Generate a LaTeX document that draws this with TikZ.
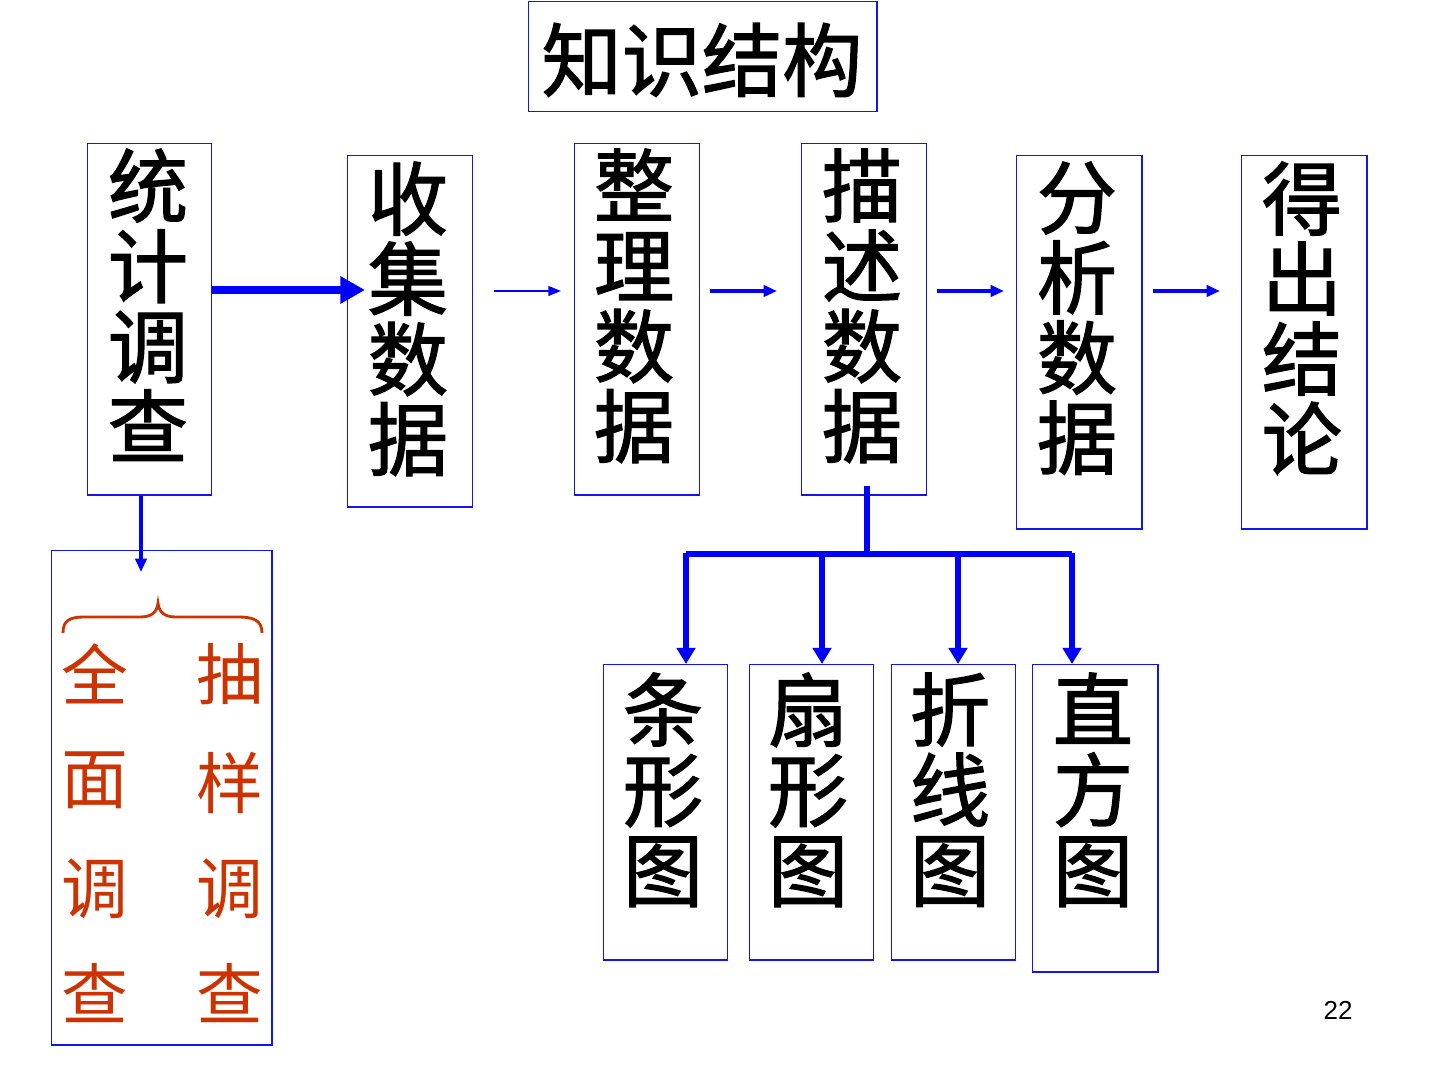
\documentclass[tikz,border=0pt]{standalone}
\usepackage{fontspec}
\newfontfamily\cjk{Noto Sans CJK SC}
\newfontfamily\cjkm{Noto Sans CJK SC}[FakeBold=1.6]
\setsansfont{Liberation Sans}
\usetikzlibrary{arrows.meta,calc}
\definecolor{lineblue}{RGB}{20,20,240}
\definecolor{arrowblue}{RGB}{0,0,255}
\definecolor{redtxt}{RGB}{204,51,0}
\tikzset{
  box/.style={draw=lineblue, line width=0.4pt, anchor=north west, inner sep=0pt},
  vtext/.style={anchor=north, align=center, inner sep=0pt, text=black,
    font=\cjkm\fontsize{22.8}{22.8}\selectfont},
  rtext/.style={anchor=north, inner sep=0pt, text=redtxt,
    font=\cjk\fontsize{19}{19}\selectfont},
  thinarr/.style={draw=arrowblue, line width=0.45pt, -{Triangle[length=3.6pt,width=2.8pt]}},
  medarr/.style={draw=arrowblue, line width=0.9pt, -{Triangle[length=3.8pt,width=3.2pt]}},
  bigarr/.style={draw=arrowblue, line width=2.3pt, -{Triangle[length=7pt,width=7.4pt]}},
  treearr/.style={draw=arrowblue, line width=1.7pt, -{Triangle[length=4.6pt,width=5.2pt]}},
  treeline/.style={draw=arrowblue, line width=1.7pt},
}
\begin{document}
\begin{tikzpicture}[x=0.01cm,y=-0.01cm]
\useasboundingbox (0,0) rectangle (1440,1080);
% title
\node[box, minimum width=3.48cm, minimum height=1.1cm] (title) at (528,1) {};
\node[anchor=center, inner sep=0pt, font=\cjkm\fontsize{22.8}{22.8}\selectfont] (titletext) at (702,60) {知识结构};
% main boxes
\node[box, minimum width=1.24cm, minimum height=3.51cm] (tj) at (87,143) {};
\node[vtext] (tjt) at (148,148) {统\\计\\调\\查};
\node[box, minimum width=1.25cm, minimum height=3.51cm] (sj) at (347,155) {};
\node[vtext] (sjt) at (408,161) {收\\集\\数\\据};
\node[box, minimum width=1.25cm, minimum height=3.51cm] (zl) at (574,143) {};
\node[vtext] (zlt) at (634,148) {整\\理\\数\\据};
\node[box, minimum width=1.25cm, minimum height=3.51cm] (ms) at (801,143) {};
\node[vtext] (mst) at (862,148) {描\\述\\数\\据};
\node[box, minimum width=1.25cm, minimum height=3.73cm] (fx) at (1016,155) {};
\node[vtext] (fxt) at (1077,161) {分\\析\\数\\据};
\node[box, minimum width=1.25cm, minimum height=3.73cm] (dc) at (1241,155) {};
\node[vtext] (dct) at (1302,161) {得\\出\\结\\论};
% survey box
\node[box, minimum width=2.2cm, minimum height=4.94cm] (dc2) at (51,550) {};
\foreach \c/\y in {全/643,面/751,调/858,查/963}{
  \node[rtext] at (95,\y) {\c};}
\foreach \c/\y in {抽/643,样/751,调/858,查/963}{
  \node[rtext] at (230,\y) {\c};}
\coordinate (brL) at (63,633);
\coordinate (brR) at (262,633);
\draw[redtxt, line width=0.8pt]
  (brL) .. controls (63,620) and (70,617) .. (85,617)
  -- (140,617) .. controls (152,617) and (157,612) .. (158,603)
  .. controls (159,612) and (164,617) .. (176,617)
  -- (238,617) .. controls (253,617) and (262,620) .. (brR);
% chart boxes
\node[box, minimum width=1.24cm, minimum height=2.95cm] (tx) at (603,664) {};
\node[vtext] (txt) at (663,672) {条\\形\\图};
\node[box, minimum width=1.24cm, minimum height=2.95cm] (sx) at (749,664) {};
\node[vtext] (sxt) at (808,672) {扇\\形\\图};
\node[box, minimum width=1.24cm, minimum height=2.95cm] (zx) at (891,664) {};
\node[vtext] (zxt) at (950,672) {折\\线\\图};
\node[box, minimum width=1.25cm, minimum height=3.07cm] (zf) at (1032,664) {};
\node[vtext] (zft) at (1093,672) {直\\方\\图};
% horizontal arrows
\draw[bigarr] ($(tj.north east)+(0,147)$) -- ($(sj.north west)+(18,135)$);
\draw[thinarr] ($(sj.north east)+(21,136)$) -- ($(zl.north west)+(-13,148)$);
\draw[medarr] ($(zl.north east)+(10,148)$) -- ($(ms.north west)+(-24,148)$);
\draw[medarr] ($(ms.north east)+(10,148)$) -- ($(fx.north west)+(-12,136)$);
\draw[medarr] ($(fx.north east)+(10,136)$) -- ($(dc.north west)+(-21,136)$);
% down arrow to survey box
\draw[medarr] ($(tj.south west)+(54,0)$) -- ($(dc2.north west)+(90,22)$);
% tree
\coordinate (junc) at ($(ms.south west)+(66,61)$);
\draw[treeline] ($(ms.south west)+(66,-10)$) -- (junc);
\draw[treeline] ($(tx.north west)+(83,-110)$) -- ($(zf.north west)+(40,-110)$);
\draw[treearr] ($(tx.north west)+(83,-111)$) -- (tx.north west -| 686,0);
\draw[treearr] ($(sx.north west)+(73,-110)$) -- ($(sx.north west)+(73,0)$);
\draw[treearr] ($(zx.north west)+(67,-110)$) -- ($(zx.north west)+(67,0)$);
\draw[treearr] ($(zf.north west)+(40,-111)$) -- ($(zf.north west)+(40,0)$);
% page number
\node[anchor=center, inner sep=0pt, font=\sffamily\fontsize{7.4}{8}\selectfont] (pg) at (1338,1010) {22};
\end{tikzpicture}
\end{document}
